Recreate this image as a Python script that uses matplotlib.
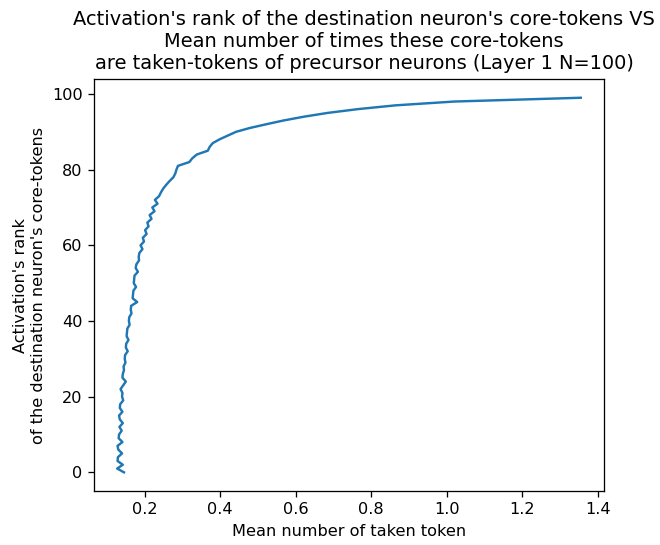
import matplotlib
matplotlib.use("Agg")
import matplotlib.pyplot as plt

# rank of the destination neuron's core-tokens (0..99)
rank = [0, 1, 2, 3, 4, 5, 6, 7, 8, 9,
        10, 11, 12, 13, 14, 15, 16, 17, 18, 19,
        20, 21, 22, 23, 24, 25, 26, 27, 28, 29,
        30, 31, 32, 33, 34, 35, 36, 37, 38, 39,
        40, 41, 42, 43, 44, 45, 46, 47, 48, 49,
        50, 51, 52, 53, 54, 55, 56, 57, 58, 59,
        60, 61, 62, 63, 64, 65, 66, 67, 68, 69,
        70, 71, 72, 73, 74, 75, 76, 77, 78, 79,
        80, 81, 82, 83, 84, 85, 86, 87, 88, 89,
        90, 91, 92, 93, 94, 95, 96, 97, 98, 99]

# mean number of times the core-token is a taken-token
mean_taken = [0.145, 0.127, 0.142, 0.128, 0.129, 0.140, 0.130, 0.128, 0.141, 0.131,
              0.132, 0.139, 0.133, 0.142, 0.134, 0.132, 0.141, 0.134, 0.135, 0.143,
              0.140, 0.141, 0.136, 0.143, 0.150, 0.141, 0.142, 0.145, 0.144, 0.149,
              0.147, 0.148, 0.155, 0.150, 0.151, 0.157, 0.152, 0.153, 0.154, 0.160,
              0.158, 0.159, 0.165, 0.163, 0.164, 0.180, 0.168, 0.169, 0.170, 0.177,
              0.171, 0.172, 0.173, 0.182, 0.176, 0.178, 0.185, 0.184, 0.186, 0.194,
              0.189, 0.198, 0.195, 0.205, 0.201, 0.210, 0.207, 0.218, 0.213, 0.226,
              0.220, 0.234, 0.227, 0.238, 0.243, 0.249, 0.257, 0.266, 0.276, 0.281,
              0.284, 0.288, 0.318, 0.326, 0.338, 0.367, 0.372, 0.380, 0.398, 0.420,
              0.442, 0.478, 0.522, 0.568, 0.622, 0.685, 0.765, 0.865, 1.020, 1.355]

DPI = 116
fig = plt.figure(figsize=(660 / DPI, 545 / DPI), dpi=DPI)
ax = fig.add_axes([0.1424, 0.099, 0.7727, 0.756])

ax.plot(mean_taken, rank, color="tab:blue")

ax.set_xlabel("Mean number of taken token")
ax.set_ylabel("Activation's rank\nof the destination neuron's core-tokens")
ax.set_title("Activation's rank of the destination neuron's core-tokens VS\n"
             "Mean number of times these core-tokens\n"
             "are taken-tokens of precursor neurons (Layer 1 N=100)",
             x=0.53)

fig.savefig("out.png", dpi=DPI, facecolor="white")
